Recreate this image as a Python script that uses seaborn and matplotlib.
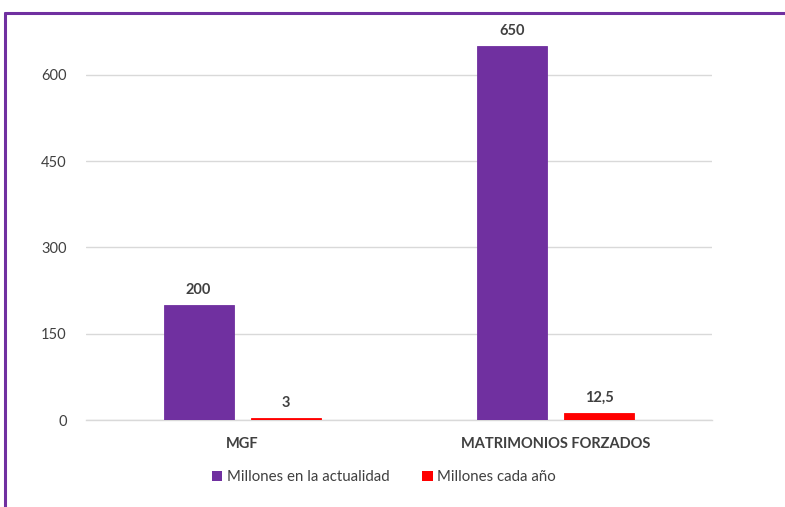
import matplotlib
matplotlib.use("Agg")
import matplotlib.pyplot as plt
import seaborn as sns
import pandas as pd
from matplotlib.lines import Line2D
from matplotlib.patches import Patch

categories = ["MGF", "MATRIMONIOS FORZADOS"]
series_names = ["Millones en la actualidad", "Millones cada año"]
actualidad = [200, 650]
cada_anio = [3, 12.5]
value_labels = [["200", "650"], ["3", "12,5"]]
yticks = [0, 150, 300, 450, 600]

colors = ["#7030A0", "#FF0000"]
text_color = "#404040"

sns.set_theme(style="white")
plt.rcParams["font.family"] = ["Lato", "DejaVu Sans"]

df = pd.DataFrame({
    "cat": categories * 2,
    "serie": [series_names[0]] * 2 + [series_names[1]] * 2,
    "val": actualidad + cada_anio,
})

fig = plt.figure(figsize=(7.85, 5.07), dpi=100)
ax = fig.add_axes([86 / 785, 1 - 420 / 507, 626 / 785, 400 / 507])

sns.barplot(data=df, x="cat", y="val", hue="serie", order=categories,
            hue_order=series_names, palette=colors, width=0.56, gap=0.2,
            saturation=1, ax=ax, legend=False, errorbar=None, linewidth=0)

for cont, col in zip(ax.containers, colors):
    for p in cont:
        p.set_edgecolor(col)
        p.set_linewidth(0.6)

for cont, labs in zip(ax.containers, value_labels):
    ax.bar_label(cont, labels=labs, padding=6, fontsize=10.5,
                 fontweight="bold", color=text_color)

ax.set_xlim(-0.5, 1.5)
ax.set_ylim(0, 695)
ax.set_yticks(yticks)
ax.set_yticklabels([str(t) for t in yticks], fontsize=10.5, color=text_color)
ax.tick_params(axis="y", length=0, pad=14)
ax.tick_params(axis="x", length=0, pad=12)
ax.set_xticks([0, 1])
ax.set_xticklabels(categories, fontsize=10.5, fontweight="bold", color=text_color)
ax.set_xlabel("")
ax.set_ylabel("")
ax.yaxis.grid(True, color="#D9D9D9", linewidth=1)
ax.set_axisbelow(True)
for s in ["top", "right", "left"]:
    ax.spines[s].set_visible(False)
ax.spines["bottom"].set_color("#D9D9D9")
ax.spines["bottom"].set_linewidth(1)
ax.spines["bottom"].set_zorder(0.5)

handles = [Patch(facecolor=c, edgecolor="none") for c in colors]
fig.legend(handles, series_names, loc="center", ncol=2,
           bbox_to_anchor=(384 / 785, 1 - 477 / 507), frameon=False,
           fontsize=10.8, handlelength=0.7, handleheight=0.7,
           handletextpad=0.3, columnspacing=2.2, labelcolor=text_color)

# purple frame (top and left edges)
fig.add_artist(Line2D([5 / 785, 1], [1 - 13 / 507, 1 - 13 / 507],
                      transform=fig.transFigure, color="#7030A0", linewidth=2.2))
fig.add_artist(Line2D([5 / 785, 5 / 785], [0, 1 - 13 / 507],
                      transform=fig.transFigure, color="#7030A0", linewidth=2.2))

fig.savefig("out.png", dpi=100)
